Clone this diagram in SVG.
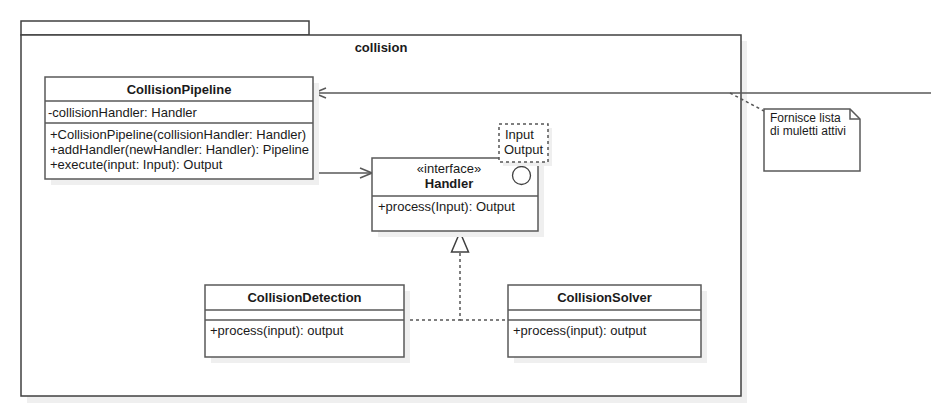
<svg xmlns="http://www.w3.org/2000/svg" width="931" height="405" viewBox="0 0 931 405">
<defs>
<style>
.box{fill:#ffffff;stroke:#595959;stroke-width:1.5}
.pkg{fill:#ffffff;stroke:#404040;stroke-width:1.5}
.sh{fill:#efefef;stroke:none}
.ln{fill:none;stroke:#595959;stroke-width:1.5}
.dot{fill:none;stroke:#555555;stroke-width:1.5;stroke-dasharray:3 3}
.t{font-family:"Liberation Sans",Arial,sans-serif;font-size:13px;fill:#1a1a1a}
.n{font-size:12px}
.b{font-weight:bold}
.c{text-anchor:middle}
</style>
<marker id="open" viewBox="0 0 14 12" refX="13" refY="6" markerWidth="14" markerHeight="12" markerUnits="userSpaceOnUse" orient="auto">
<path d="M1,1 L13,6 L1,11" fill="none" stroke="#595959" stroke-width="1.5"/>
</marker>
<marker id="tri" viewBox="0 0 22 20" refX="21" refY="10" markerWidth="22" markerHeight="20" markerUnits="userSpaceOnUse" orient="auto">
<path d="M1,1.5 L21,10 L1,18.5 Z" fill="#ffffff" stroke="#404040" stroke-width="1.5"/>
</marker>
</defs>
<rect width="931" height="405" fill="#ffffff"/>

<g id="package-collision">
<rect class="sh" x="27" y="41" width="720" height="362"/>
<rect class="pkg" x="21" y="21" width="288" height="14"/>
<rect class="pkg" x="21" y="35" width="720" height="361"/>
<text class="t b c" x="381" y="52">collision</text>
</g>

<g id="connectors">
<line class="ln" x1="931" y1="93" x2="314" y2="93" marker-end="url(#open)"/>
<line class="ln" x1="313" y1="173" x2="372" y2="173" marker-end="url(#open)"/>
<polyline class="dot" points="404,320 460,320 460,253"/>
<line class="dot" x1="460" y1="320" x2="508" y2="320"/>
<line x1="460" y1="255" x2="460" y2="232" stroke="none" marker-end="url(#tri)"/>
<line class="dot" x1="730" y1="93" x2="764" y2="111"/>
</g>

<g id="CollisionPipeline">
<rect class="sh" x="51" y="83" width="268" height="102"/>
<rect class="box" x="45" y="77" width="268" height="102"/>
<line class="ln" x1="45" y1="101" x2="313" y2="101"/>
<line class="ln" x1="45" y1="123" x2="313" y2="123"/>
<text class="t b c" x="179" y="94">CollisionPipeline</text>
<text class="t" x="48" y="117">-collisionHandler: Handler</text>
<text class="t" x="50" y="139">+CollisionPipeline(collisionHandler: Handler)</text>
<text class="t" x="50" y="154">+addHandler(newHandler: Handler): Pipeline</text>
<text class="t" x="50" y="168.5">+execute(input: Input): Output</text>
</g>

<g id="Handler">
<rect class="sh" x="378" y="164" width="166" height="73"/>
<rect class="box" x="372" y="158" width="166" height="73"/>
<line class="ln" x1="372" y1="196" x2="538" y2="196"/>
<circle cx="521.5" cy="175.5" r="9" fill="#ffffff" stroke="#404040" stroke-width="1.3"/>
<text class="t c" x="449" y="173">«interface»</text>
<text class="t b c" x="449" y="187.5">Handler</text>
<text class="t" x="378" y="211">+process(Input): Output</text>
<rect class="sh" x="503" y="128" width="49" height="38"/>
<rect x="499" y="124" width="49" height="38" fill="#ffffff" stroke="#555555" stroke-width="1.5" stroke-dasharray="3 3"/>
<text class="t" x="505" y="139">Input</text>
<text class="t" x="504" y="154">Output</text>
</g>

<g id="CollisionDetection">
<rect class="sh" x="211" y="291" width="199" height="72"/>
<rect class="box" x="205" y="285" width="199" height="72"/>
<line class="ln" x1="205" y1="310" x2="404" y2="310"/>
<line class="ln" x1="205" y1="320" x2="404" y2="320"/>
<text class="t b c" x="304.5" y="302">CollisionDetection</text>
<text class="t" x="210" y="335">+process(input): output</text>
</g>

<g id="CollisionSolver">
<rect class="sh" x="514" y="291" width="193" height="72"/>
<rect class="box" x="508" y="285" width="193" height="72"/>
<line class="ln" x1="508" y1="310" x2="701" y2="310"/>
<line class="ln" x1="508" y1="320" x2="701" y2="320"/>
<text class="t b c" x="604.5" y="302">CollisionSolver</text>
<text class="t" x="513" y="335">+process(input): output</text>
</g>

<g id="note">
<path d="M764,109 H850 L860,119 V171 H764 Z" fill="#ffffff" stroke="#595959" stroke-width="1.5"/>
<path d="M850,109 V119 H860" fill="none" stroke="#595959" stroke-width="1.5"/>
<text class="t n" x="770" y="121.5">Fornisce lista</text>
<text class="t n" x="770" y="135">di muletti attivi</text>
</g>
</svg>
